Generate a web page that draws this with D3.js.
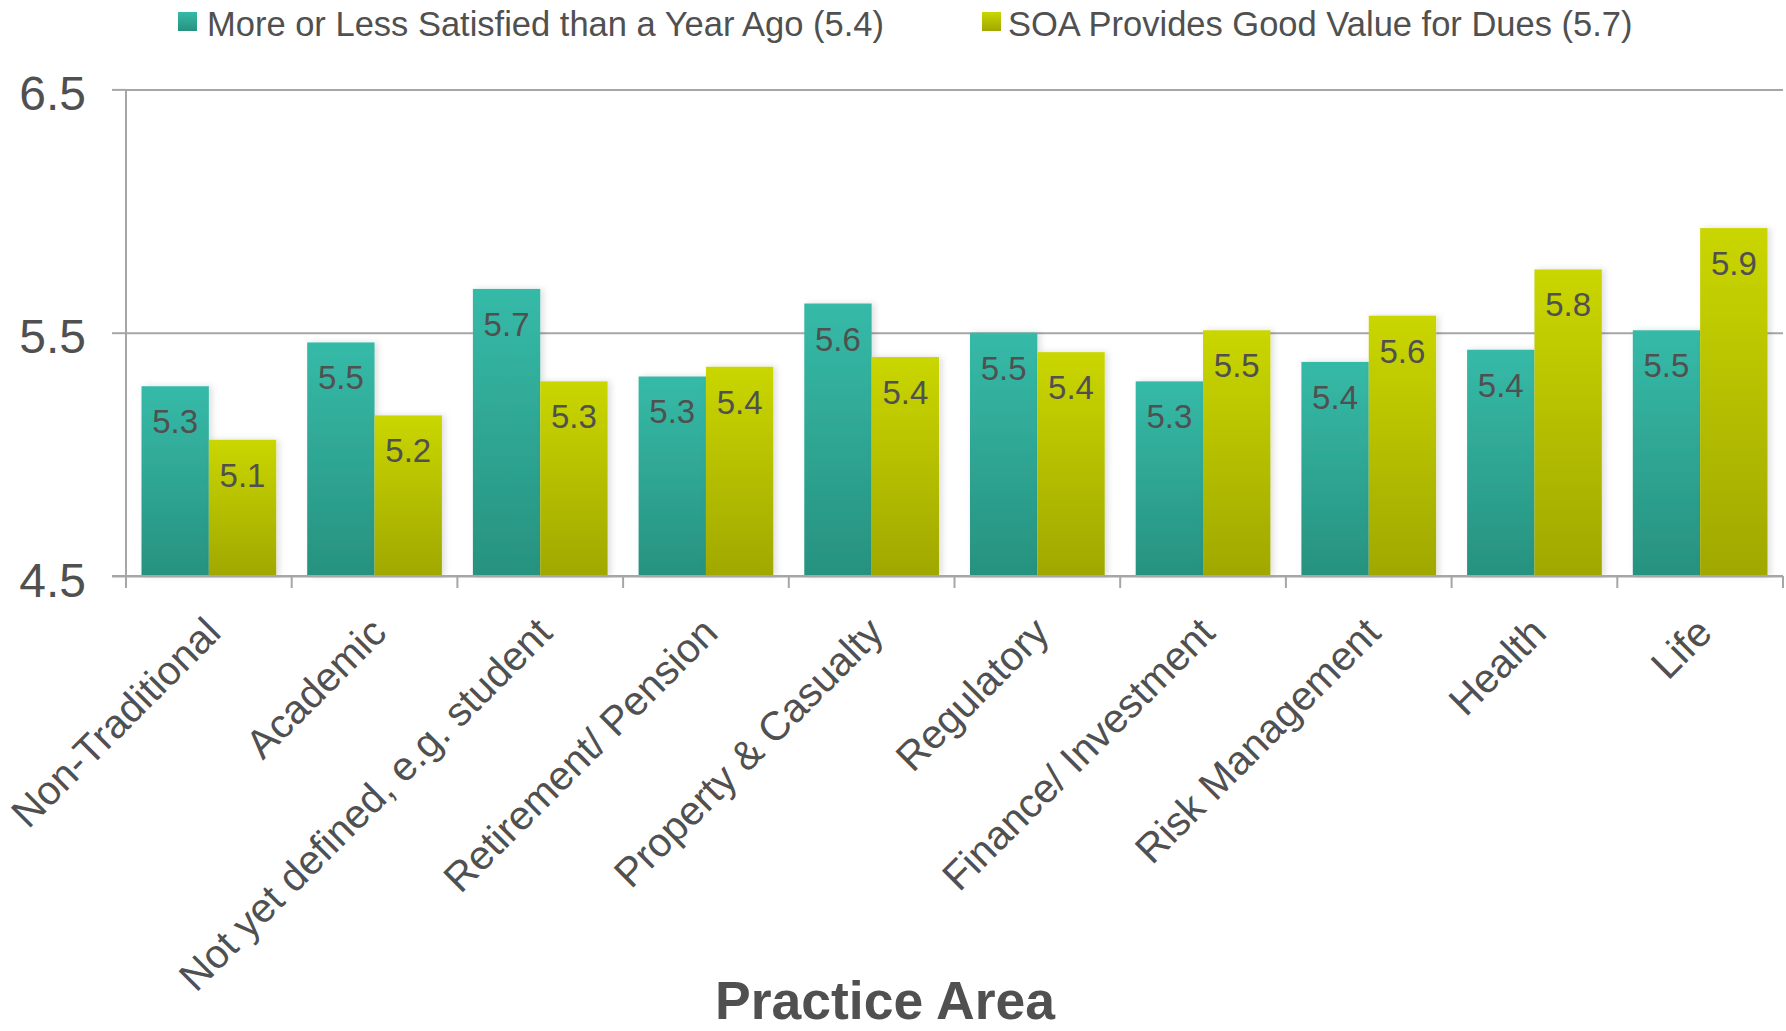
<!DOCTYPE html>
<html>
<head>
<meta charset="utf-8">
<script src="https://cdn.jsdelivr.net/npm/d3@7"></script>
<style>
  html, body { margin: 0; padding: 0; background: #ffffff; }
  svg { display: block; font-family: "Liberation Sans", Arial, sans-serif; }
</style>
</head>
<body>
<svg id="chart" width="1786" height="1031"></svg>
<script>
// Practice areas along the x axis
const categories = [
  "Non-Traditional", "Academic", "Not yet defined, e.g. student",
  "Retirement/ Pension", "Property & Casualty", "Regulatory",
  "Finance/ Investment", "Risk Management", "Health", "Life"
];

// Series names (legend text)
const seriesNames = [
  "More or Less Satisfied than a Year Ago (5.4)",
  "SOA Provides Good Value for Dues (5.7)"
];

// Mean scores per practice area
const satisfiedValues = [5.28, 5.46, 5.68, 5.32, 5.62, 5.50, 5.30, 5.38, 5.43, 5.51];
const valueForDues    = [5.06, 5.16, 5.30, 5.36, 5.40, 5.42, 5.51, 5.57, 5.76, 5.93];

// Value axis ticks
const yTicks = [4.5, 5.5, 6.5];

const axisTitle = "Practice Area";

const textColor = "#505050";
const lineColor = "#a6a6a6";
const seriesColors = [
  { top: "#36baa8", bottom: "#27927f" },
  { top: "#cad600", bottom: "#a0a800" }
];

const svg = d3.select("#chart");
const plotLeft = 126, plotRight = 1783, plotTop = 89.4, plotBottom = 576;

const x0 = d3.scaleBand().domain(categories).range([plotLeft, plotRight]).padding(0);
const x1 = d3.scaleBand().domain([0, 1]).range([0, x0.bandwidth()])
  .paddingInner(0).paddingOuter(0.23);
const y = d3.scaleLinear().domain([4.5, 6.5]).range([plotBottom, plotTop]);

const fmt = d3.format(".1f");

// Gradients and a soft shadow for the bars
const defs = svg.append("defs");
seriesColors.forEach((c, i) => {
  const g = defs.append("linearGradient").attr("id", "grad" + i)
    .attr("x1", 0).attr("y1", 0).attr("x2", 0).attr("y2", 1);
  g.append("stop").attr("offset", "0%").attr("stop-color", c.top);
  g.append("stop").attr("offset", "100%").attr("stop-color", c.bottom);
});
const shadow = defs.append("filter").attr("id", "shadow")
  .attr("x", "-20%").attr("y", "-5%").attr("width", "140%").attr("height", "110%");
shadow.append("feDropShadow").attr("dx", 3).attr("dy", 0)
  .attr("stdDeviation", 3).attr("flood-color", "#000").attr("flood-opacity", 0.13);

// Horizontal gridlines
const grid = svg.append("g")
  .attr("transform", `translate(${plotLeft},0)`)
  .call(d3.axisLeft(y).tickValues(yTicks).tickSize(-(plotRight - plotLeft)).tickFormat(""));
grid.select(".domain").remove();
grid.selectAll("line").attr("stroke", lineColor).attr("stroke-width", 2);

// Value axis with labels
const yAxis = svg.append("g")
  .attr("transform", `translate(${plotLeft},0)`)
  .call(d3.axisLeft(y).tickValues(yTicks).tickSize(14).tickPadding(26).tickFormat(fmt));
yAxis.select(".domain").remove();
yAxis.selectAll("line").attr("stroke", lineColor).attr("stroke-width", 2);
yAxis.selectAll("text")
  .attr("fill", textColor)
  .style("font-size", "48px")
  .attr("dy", "20px");

// Vertical axis line
svg.append("line")
  .attr("x1", plotLeft).attr("x2", plotLeft)
  .attr("y1", y(6.5)).attr("y2", plotBottom + 12)
  .attr("stroke", lineColor).attr("stroke-width", 2);

// Bars
const series = [satisfiedValues, valueForDues];
const groups = svg.append("g").selectAll("g")
  .data(categories)
  .join("g")
  .attr("transform", d => `translate(${x0(d)},0)`);

groups.selectAll("rect")
  .data((d, i) => series.map((s, k) => ({ k, v: s[i] })))
  .join("rect")
  .attr("x", d => x1(d.k))
  .attr("width", x1.bandwidth())
  .attr("y", d => y(d.v))
  .attr("height", d => y(4.5) - y(d.v))
  .attr("fill", d => `url(#grad${d.k})`)
  .attr("filter", "url(#shadow)");

groups.selectAll("text.val")
  .data((d, i) => series.map((s, k) => ({ k, v: s[i] })))
  .join("text")
  .attr("class", "val")
  .attr("x", d => x1(d.k) + x1.bandwidth() / 2)
  .attr("y", d => y(d.v) + 47)
  .attr("text-anchor", "middle")
  .attr("fill", textColor)
  .style("font-size", "33px")
  .text(d => fmt(d.v));

// Category axis: baseline, boundary ticks and rotated labels
const xAxis = svg.append("g")
  .attr("transform", `translate(0,${plotBottom})`)
  .call(d3.axisBottom(x0).tickSize(0).tickPadding(0));
xAxis.select(".domain").remove();
xAxis.selectAll("text")
  .attr("x", 0).attr("y", 0).attr("dy", 0)
  .attr("text-anchor", "end")
  .attr("transform", "translate(14,59) rotate(-45)")
  .attr("fill", textColor)
  .style("font-size", "40.5px");

svg.append("line")
  .attr("x1", plotLeft - 14).attr("x2", plotRight)
  .attr("y1", plotBottom).attr("y2", plotBottom)
  .attr("stroke", lineColor).attr("stroke-width", 2);

svg.append("g").selectAll("line")
  .data(categories.map(c => x0(c)).concat([plotRight]))
  .join("line")
  .attr("x1", d => d).attr("x2", d => d)
  .attr("y1", plotBottom).attr("y2", plotBottom + 12)
  .attr("stroke", lineColor).attr("stroke-width", 2);

// Axis title
svg.append("text")
  .attr("x", 885).attr("y", 1019)
  .attr("text-anchor", "middle")
  .attr("fill", textColor)
  .style("font-size", "53.5px")
  .style("font-weight", "bold")
  .text(axisTitle);

// Legend
const legendPos = [{ sx: 178, tx: 207 }, { sx: 982, tx: 1008 }];
const legend = svg.append("g").selectAll("g")
  .data(seriesNames)
  .join("g");
legend.append("rect")
  .attr("x", (d, i) => legendPos[i].sx).attr("y", 12)
  .attr("width", 19).attr("height", 19)
  .attr("fill", (d, i) => `url(#grad${i})`);
legend.append("text")
  .attr("x", (d, i) => legendPos[i].tx).attr("y", 36)
  .attr("fill", textColor)
  .style("font-size", "34.5px")
  .text(d => d);
</script>
</body>
</html>
